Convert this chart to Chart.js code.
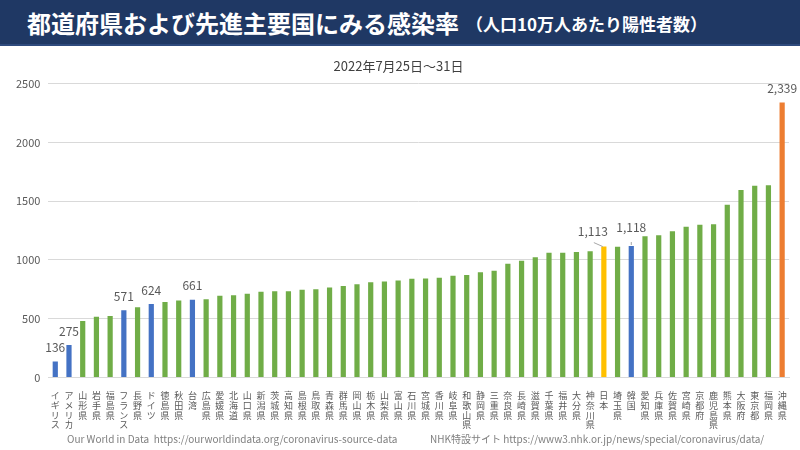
<!DOCTYPE html>
<html>
<head>
<meta charset="utf-8">
<script src="https://cdn.jsdelivr.net/npm/chart.js@4"></script>
<style>
    body { margin: 0; width: 800px; height: 450px; background: #fff; overflow: hidden;
           font-family: "Noto Sans CJK JP", "Noto Sans", sans-serif; position: relative; }
    #header { position: absolute; left: 0; top: 0; width: 800px; height: 44px; background: #1F3864;
              border-bottom: 2px solid #2E4A7D; color: #fff; white-space: nowrap; }
    #header .main { position: absolute; left: 27px; top: 5px; font-size: 24px; font-weight: bold; }
    #header .sub { position: absolute; left: 466px; top: 11px; font-size: 17px; font-weight: bold; }
    #chartBox { position: absolute; left: 0; top: 46px; width: 800px; height: 404px; }
    .foot { position: absolute; top: 431px; font-size: 10px; color: #7F7F7F; white-space: nowrap; }
</style>
</head>
<body>
<div id="header"><span class="main">都道府県および先進主要国にみる感染率</span><span class="sub">（人口10万人あたり陽性者数）</span></div>
<div id="chartBox"><canvas id="infectionChart"></canvas></div>
<div class="foot" style="left:67px">Our World in Data&nbsp; https://ourworldindata.org/coronavirus-source-data</div>
<div class="foot" style="left:430px">NHK特設サイト https://www3.nhk.or.jp/news/special/coronavirus/data/</div>
<script>
// categories, sorted by rate
const categories = ['イギリス','アメリカ','山形県','岩手県','福島県','フランス','長野県','ドイツ','徳島県','秋田県',
    '台湾','広島県','愛媛県','北海道','山口県','新潟県','茨城県','高知県','島根県','鳥取県',
    '青森県','群馬県','岡山県','栃木県','山梨県','富山県','石川県','宮城県','香川県','岐阜県',
    '和歌山県','静岡県','三重県','奈良県','長崎県','滋賀県','千葉県','福井県','大分県','神奈川県',
    '日本','埼玉県','韓国','愛知県','兵庫県','佐賀県','宮崎県','京都府','鹿児島県','熊本県',
    '大阪府','東京都','福岡県','沖縄県'];
// positives per 100k (7/25-7/31)
const values = [136, 275, 480, 517, 522, 571, 596, 624, 641, 655,
    661, 665, 694, 700, 712, 729, 734, 734, 746, 751,
    765, 777, 793, 810, 816, 825, 839, 842, 847, 866,
    872, 894, 908, 968, 992, 1023, 1060, 1060, 1068, 1074,
    1113, 1112, 1118, 1202, 1210, 1244, 1281, 1298, 1304, 1469,
    1594, 1631, 1636, 2339];
// c = country, j = Japan, p = prefecture, top = highest
const groups = ['c','c','p','p','p','c','p','c','p','p',
    'c','p','p','p','p','p','p','p','p','p',
    'p','p','p','p','p','p','p','p','p','p',
    'p','p','p','p','p','p','p','p','p','p',
    'j','p','c','p','p','p','p','p','p','p',
    'p','p','p','top'];
const yTicks = [0, 500, 1000, 1500, 2000, 2500];

const groupColors = {c: '#4472C4', j: '#FFC000', p: '#70AD47', top: '#ED7D31'};

// value labels over the highlighted bars
const valueLabels = {
    id: 'valueLabels',
    afterDatasetsDraw(chart) {
        let ctx = chart.ctx;
        let meta = chart.getDatasetMeta(0);
        ctx.save();
        ctx.font = '12px "Noto Sans CJK JP", "Noto Sans", sans-serif';
        ctx.fillStyle = '#595959';
        ctx.textAlign = 'center';
        ctx.textBaseline = 'middle';
        meta.data.forEach(function(bar, i) {
            if (groups[i] === 'p') return;
            let txt = values[i].toLocaleString('en-US');
            let tx = bar.x, ty = bar.y - 14;
            if (groups[i] === 'j') {
                tx = bar.x - 11; ty = bar.y - 15;
                ctx.strokeStyle = '#A6A6A6';
                ctx.lineWidth = 1;
                ctx.beginPath();
                ctx.moveTo(bar.x - 10, bar.y - 4);
                ctx.lineTo(bar.x - 1, bar.y);
                ctx.stroke();
            }
            if (categories[i] === '韓国') {
                ty = bar.y - 19;
                ctx.strokeStyle = '#A6A6A6';
                ctx.beginPath();
                ctx.moveTo(bar.x, bar.y - 4);
                ctx.lineTo(bar.x, bar.y - 1);
                ctx.stroke();
            }
            ctx.fillText(txt, tx, ty);
        });
        ctx.restore();
    }
};

const ctx = document.getElementById('infectionChart');
const myChart = new Chart(ctx, {
    type: 'bar',
    data: {
        labels: categories.map(function(c) { return c.split(''); }),
        datasets: [{
            label: '感染率',
            data: values,
            backgroundColor: groups.map(function(g) { return groupColors[g]; }),
            barPercentage: 0.38,
            categoryPercentage: 1
        }]
    },
    options: {
        responsive: true,
        maintainAspectRatio: false,
        animation: false,
        layout: { padding: { top: 0, left: 8, right: 11, bottom: 15 } },
        plugins: {
            legend: { display: false },
            tooltip: { enabled: false },
            title: {
                display: true,
                text: '2022年7月25日～31日',
                color: '#404040',
                font: { size: 13, family: '"Noto Sans CJK JP", sans-serif', weight: 'normal' },
                padding: { top: 12, bottom: 10 }
            }
        },
        scales: {
            y: {
                min: 0,
                max: 2500,
                afterBuildTicks: function(axis) {
                    axis.ticks = yTicks.map(function(v) { return {value: v}; });
                },
                ticks: {
                    color: '#595959',
                    font: { size: 11, family: '"Noto Sans CJK JP", sans-serif' },
                    padding: 8,
                    callback: function(v) { return String(v); }
                },
                grid: { color: '#D9D9D9', drawTicks: false },
                border: { display: false }
            },
            x: {
                grid: { display: false },
                border: { color: '#D9D9D9' },
                ticks: {
                    color: '#595959',
                    autoSkip: false,
                    maxRotation: 0,
                    minRotation: 0,
                    padding: 5,
                    font: { size: 9, family: '"Noto Sans CJK JP", sans-serif', lineHeight: 1.1 }
                }
            }
        }
    },
    plugins: [valueLabels]
});
</script>
</body>
</html>
